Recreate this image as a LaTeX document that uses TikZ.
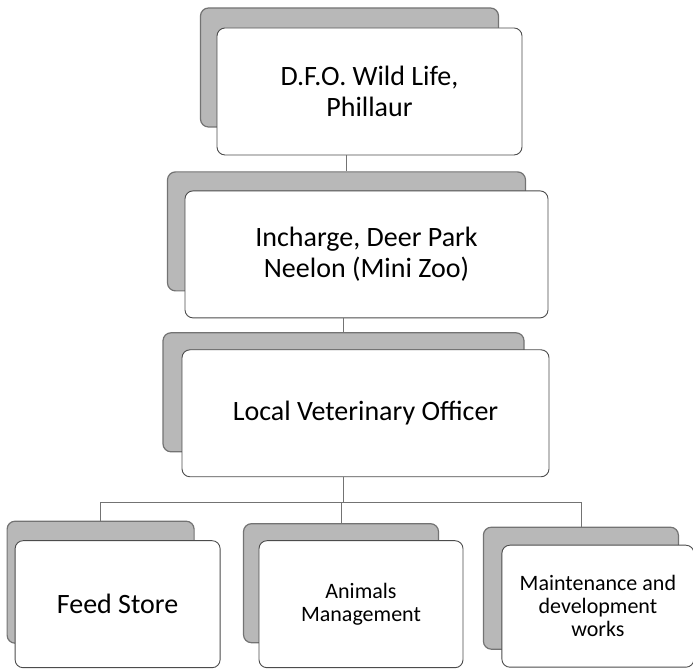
\documentclass[tikz,border=0pt]{standalone}
\usepackage{fontspec}
\setmainfont{Carlito}
\usetikzlibrary{positioning, backgrounds, calc}

\begin{document}
\begin{tikzpicture}[
    x=1pt, y=1pt,
    box/.style={rectangle, draw=black!70, line width=0.9pt, rounded corners=8pt, fill=white, align=center, minimum height=127pt, font=\fontsize{28}{31}\selectfont},
    smalltext/.style={font=\fontsize{22}{23}\selectfont},
    backbox/.style={rectangle, draw=black!55, line width=1.2pt, rounded corners=8pt, fill=black!28, minimum height=119pt},
    link/.style={draw=black!55, line width=0.8pt}
]
    \useasboundingbox (0,0) rectangle (693,671);
    \node[box, minimum width=305pt] (dfo) at (369.5,579.5) {D.F.O. Wild Life,\\Phillaur};
    \node[box, below=35pt of dfo, xshift=-3pt, minimum width=363pt] (incharge) {Incharge, Deer Park\\Neelon (Mini Zoo)};
    \node[box, below=31pt of incharge, xshift=-1pt, minimum width=367pt] (vet) {Local Veterinary Officer};
    \node[box, below=63pt of vet, xshift=-4.5pt, minimum width=204pt, smalltext] (animals) {Animals\\Management};
    \node[box, left=38pt of animals, minimum width=205pt] (feed) {Feed Store};
    \node[box, right=38pt of animals, yshift=-2pt, minimum width=192pt, minimum height=122pt, smalltext] (works) {Maintenance and\\development\\works};

    % stacked boxes behind
    \begin{scope}[on background layer]
        \node[backbox, minimum width=298pt] (dfoB) at ($(dfo)+(-20,24)$) {};
        \node[backbox, minimum width=358pt] (inchargeB) at ($(incharge)+(-20,23)$) {};
        \node[backbox, minimum width=361pt] (vetB) at ($(vet)+(-22,21)$) {};
        \node[backbox, minimum width=187pt, minimum height=122pt] (feedB) at ($(feed)+(-17,22)$) {};
        \node[backbox, minimum width=195pt] (animalsB) at ($(animals)+(-20,21)$) {};
        \node[backbox, minimum width=195pt, minimum height=122pt] (worksB) at ($(works)+(-17,18)$) {};
    \end{scope}

    \draw[link] (inchargeB.north |- dfo.south) -- (inchargeB.north);
    \draw[link] (vetB.north |- incharge.south) -- (vetB.north);
    \draw[link] (vetB.north |- vet.south) -- ++(0,-25) coordinate (bus);
    \draw[link] (bus) -| (feedB.north);
    \draw[link] (bus) -| (animalsB.north);
    \draw[link] (bus) -| (worksB.north);
\end{tikzpicture}
\end{document}
